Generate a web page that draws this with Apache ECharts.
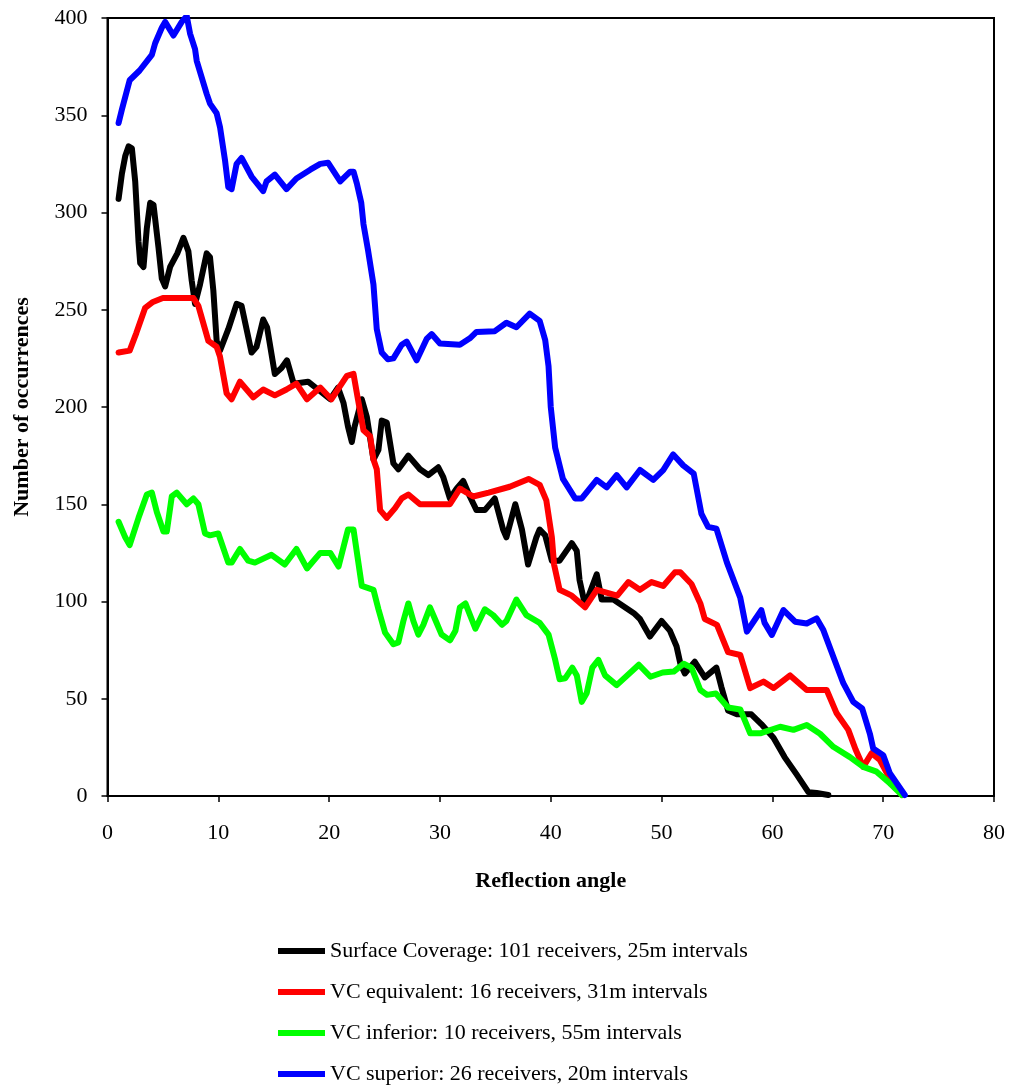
<!DOCTYPE html>
<html>
<head>
<meta charset="utf-8">
<script src="https://cdn.jsdelivr.net/npm/echarts@6/dist/echarts.min.js"></script>
<style>
html,body{margin:0;padding:0;background:#fff;}
#chart{width:1010px;height:1088px;}
</style>
</head>
<body>
<div id="chart"></div>
<script>
var seriesNames = [
  'Surface Coverage: 101 receivers, 25m intervals',
  'VC equivalent: 16 receivers, 31m intervals',
  'VC inferior: 10 receivers, 55m intervals',
  'VC superior: 26 receivers, 20m intervals'
];
var xTickValues = [0,10,20,30,40,50,60,70,80];
var yTickValues = [0,50,100,150,200,250,300,350,400];

var surfaceX = [1.0,1.3,1.6,1.9,2.2,2.5,2.8,2.95,3.25,3.55,3.85,4.15,4.6,4.9,5.2,5.65,6.3,6.85,7.0,7.3,7.6,7.9,8.35,8.95,9.25,9.55,9.85,10.15,10.9,11.65,12.1,13.0,13.45,14.05,14.4,15.1,15.7,16.2,16.8,18.1,19.0,20.1,20.8,21.3,21.7,22.05,22.3,22.95,23.4,24.0,24.45,24.75,25.2,25.8,26.25,27.15,28.2,28.95,29.85,30.3,30.9,31.5,32.1,32.7,33.3,34.05,34.95,35.7,36.0,36.8,37.4,37.95,38.7,39.0,39.5,40.1,40.8,41.9,42.35,42.6,43.1,44.15,44.6,45.65,47.5,48.05,48.95,50.0,50.75,51.35,51.7,52.1,53.0,53.9,54.95,55.4,56.0,56.8,58.1,59.0,60.1,61.1,62.2,63.25,64.0,65.05];
var surfaceY = [307,320,329,334,333,316,285,274,272,292,305,304,282,266,262,272,279,287,286,280,265,253,263,279,277,260,234,229,240,253,252,228,231,245,241,217,220,224,212,213,209,204,210,202,190,182,190,204,195,173,178,193,192,171,168,175,168,165,169,164,153,158,162,154,147,147,153,137,133,150,137,119,133,137,134,121,121,130,126,111,98,114,101,101,94,91,82,90,85,77,68,63,69,61,66,56,44,42,42,37,30,20,11,2,1.5,0.5];

var equivX = [1.0,2.0,2.6,3.4,4.1,5.0,7.75,8.2,9.1,9.85,10.15,10.75,11.2,11.95,13.15,14.05,15.1,16.15,17.05,18.0,19.2,20.2,21.6,22.2,22.6,23.1,23.7,24.0,24.3,24.6,25.2,25.95,26.55,27.15,28.2,30.9,31.8,33.0,34.4,36.3,38.0,39.0,39.6,40.1,40.3,40.8,41.9,43.1,44.15,46.0,47.0,48.05,49.1,50.15,51.2,51.7,52.7,53.5,53.9,55.0,56.0,57.1,58.0,59.2,60.1,61.6,63.1,64.9,65.8,66.85,67.5,68.2,68.95,69.7,70.6,71.7];
var equivY = [228,229,238,251,254,256,256,252,234,231,226,207,204,213,205,209,206,209,212,204,210,204,216,217,204,188,185,173,168,147,143,148,153,155,150,150,158,154,156,159,163,160,152,133,119,106,103,97,106,103,110,106,110,108,115,115,109,99,91,88,74,72.5,55.5,58.8,55.5,62,54.5,54.5,42.5,34,24,15,22,18.5,9,0.5];

var inferiorX = [1.0,1.6,2.0,2.8,3.55,4.0,4.45,5.05,5.35,5.8,6.25,7.15,7.75,8.2,8.8,9.25,10.0,10.9,11.2,11.95,12.7,13.3,14.8,16.0,17.05,18.0,19.2,20.1,20.85,21.7,22.2,22.95,24.0,24.45,25.05,25.8,26.25,26.7,27.15,27.6,28.05,28.5,29.1,29.55,30.15,30.9,31.4,31.8,32.3,33.2,34.05,34.8,35.6,36.0,36.9,37.8,39.0,39.8,40.4,40.8,41.3,41.95,42.35,42.8,43.25,43.75,44.3,44.9,45.95,47.95,49.0,50.1,51.1,52.0,52.7,53.5,54.1,54.9,56.0,57.1,58.0,58.9,60.7,61.9,63.1,64.3,65.5,67.0,68.2,69.4,70.6,71.7];
var inferiorY = [141,133,129,143,155,156,146,136,136,154,156,150,153,150,135,134,135,120,120,127,121,120,124,119,127,117,125,125,118,137,137,108,106,96,84,78,79,90,99,90,83,88,97,91,83,80,85,97,99,86,96,93,88,90,101,93,89,83,70,60,60.5,66,62,48.4,53,66,70,62,57,67.5,61.3,63.5,64,68,66,54.5,52,52.7,45.5,44.5,32.2,32.2,35.6,34,36.5,32,25.3,20,15,12.5,6.5,0.5];

var superiorX = [1.0,1.3,2.0,2.9,4.0,4.3,4.9,5.2,5.95,6.7,7.15,7.45,7.9,8.05,8.95,9.25,9.85,10.15,10.6,10.9,11.2,11.65,12.1,13.0,14.05,14.35,15.1,16.15,17.05,18.3,19.2,19.9,21.0,21.9,22.2,22.5,22.9,23.1,23.5,24.0,24.3,24.75,25.3,25.8,26.55,27.0,27.9,28.8,29.25,30.0,31.8,32.7,33.3,34.95,36.0,36.9,38.1,39.0,39.5,39.8,40.0,40.4,41.1,42.2,42.8,44.15,45.05,45.95,46.85,48.05,49.25,50.15,51.05,51.95,52.9,53.6,54.2,54.95,55.9,57.1,57.7,58.4,59.0,59.3,59.95,61.0,62.05,63.1,64.0,64.6,65.5,66.4,67.3,68.1,68.8,69.1,70.0,70.6,71.95];
var superiorY = [346,353,368,373,381,387,395,398,391,398,401,392,384,378,361,356,351,344,327,313,312,325,328,318.5,311,316,319.5,312,317.5,322,325,325.6,316,321,321,315,305,294,281,263,240,228,224.5,225,232,233.6,224,235,237.5,232.6,232,235.3,238.6,239,243.3,241,248,244.3,234.4,221,200,179,163,153,153,162.5,158.7,165,158.7,167.6,162.5,167.6,175.6,170,165.8,145,138.4,137.5,120,102,84.5,90.5,95.6,89,82.8,95.6,89.6,88.7,91.3,85.3,71.6,58,48.4,45,32,24.4,21,11.7,0.5];

var colors = ['#000000','#ff0000','#00ff00','#0000ff'];

function pairs(xs, ys){ return xs.map(function(x,i){ return [x, ys[i]]; }); }
var dataSets = [pairs(surfaceX,surfaceY), pairs(equivX,equivY), pairs(inferiorX,inferiorY), pairs(superiorX,superiorY)];

var font = '"Liberation Serif","Times New Roman",serif';
var chart = echarts.init(document.getElementById('chart'), null, {renderer:'canvas'});
chart.setOption({
  animation: false,
  backgroundColor: '#fff',
  grid: {left: 107.5, right: 16, top: 18, bottom: 292, show: true, borderColor: '#000', borderWidth: 2, backgroundColor: 'transparent'},
  xAxis: {
    type: 'value', min: 0, max: 80, interval: 10,
    name: 'Reflection angle', nameLocation: 'middle', nameGap: 74,
    nameTextStyle: {fontFamily: font, fontSize: 22, fontWeight: 'bold', color: '#000'},
    axisLine: {show: true, onZero: false, lineStyle: {color: '#000', width: 2}},
    axisTick: {show: true, inside: false, length: 6, lineStyle: {color: '#000', width: 1.5}},
    axisLabel: {fontFamily: font, fontSize: 22, color: '#000', margin: 26,
      formatter: function(v){ return xTickValues.indexOf(v) >= 0 ? String(v) : ''; }},
    splitLine: {show: false}
  },
  yAxis: {
    type: 'value', min: 0, max: 400, interval: 50,
    name: 'Number of occurrences', nameLocation: 'middle', nameGap: 74, nameRotate: 90,
    nameTextStyle: {fontFamily: font, fontSize: 22, fontWeight: 'bold', color: '#000'},
    axisLine: {show: true, lineStyle: {color: '#000', width: 2}},
    axisTick: {show: true, inside: false, length: 6, lineStyle: {color: '#000', width: 1.5}},
    axisLabel: {fontFamily: font, fontSize: 22, color: '#000', margin: 20,
      formatter: function(v){ return yTickValues.indexOf(v) >= 0 ? String(v) : ''; }},
    splitLine: {show: false}
  },
  legend: {
    type: 'plain', orient: 'vertical', left: 278, top: 940, height: 148,
    padding: 0,
    itemWidth: 47, itemHeight: 6, itemGap: 19,
    icon: 'rect',
    textStyle: {fontFamily: font, fontSize: 22, color: '#000', padding: [0,0,0,0]},
    data: seriesNames
  },
  series: seriesNames.map(function(n, i){
    return {
      name: n, type: 'line', data: dataSets[i], showSymbol: false, symbol: 'none',
      color: colors[i],
      lineStyle: {color: colors[i], width: 6, join: 'round', cap: 'round'},
      z: 2 + i
    };
  })
});
</script>
</body>
</html>
